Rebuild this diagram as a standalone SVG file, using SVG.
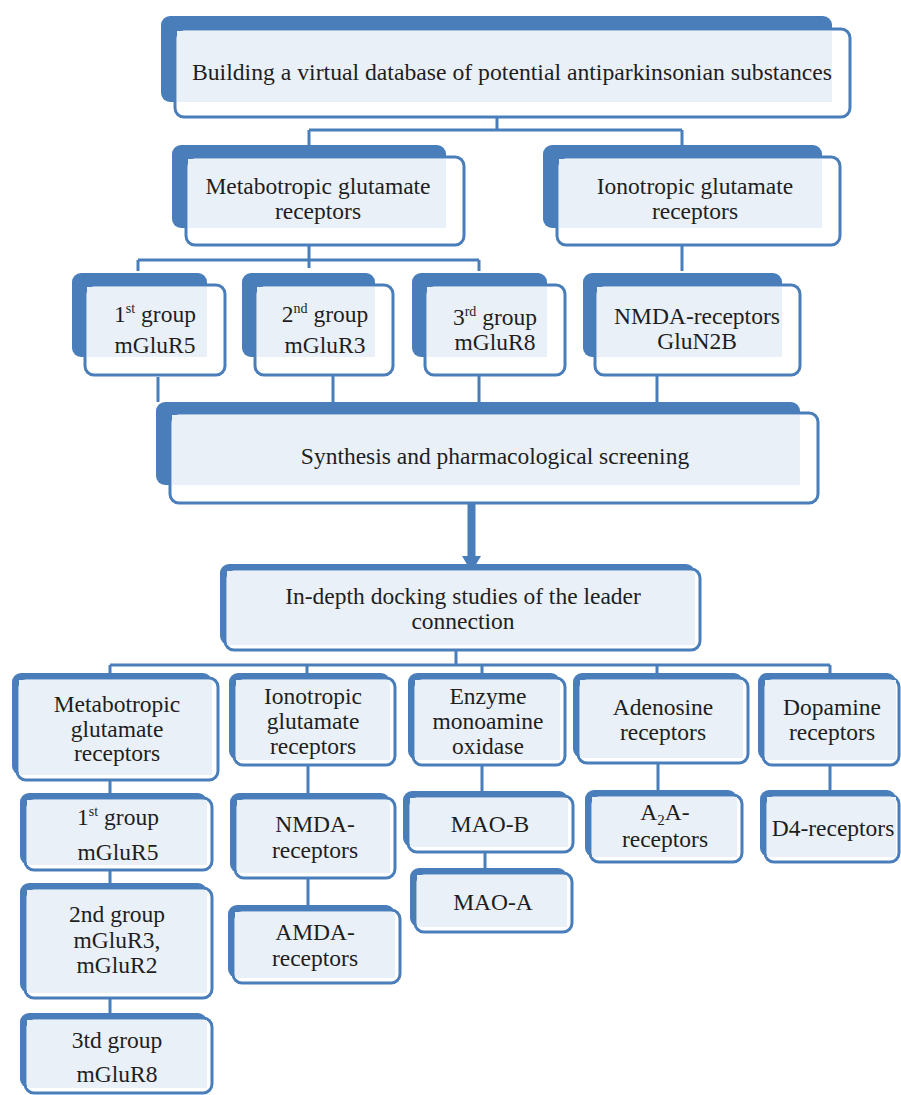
<svg xmlns="http://www.w3.org/2000/svg" width="901" height="1095" viewBox="0 0 901 1095">
<style>
.bg{fill:#ffffff}
.back{fill:#4a7ebb}
.front{fill:#ffffff;stroke:#4a7ebb;stroke-width:3}
.inner{fill:#e9f0f8}
.t{font-family:"Liberation Serif","Times New Roman",serif;font-size:23.5px;fill:#1e1e1e;text-anchor:middle}
.conn{stroke:#4a7ebb;stroke-width:3;fill:none}
.arrow{fill:#4a7ebb}
</style>
<rect class="bg" x="0" y="0" width="901" height="1095"/>

<g id="connectors">
  <path class="conn" d="M497,117 V130 M309,130 H682 M309,130 V145 M682,130 V145"/>
  <path class="conn" d="M309,245 V268 M138,260 H479 M138,260 V271 M479,260 V271 M682,245 V271"/>
  <path class="conn" d="M158,377 V402 M333,375 V402 M479,375 V402 M657,375 V402"/>
  <rect class="arrow" x="467.5" y="503" width="8" height="54"/>
  <polygon class="arrow" points="462,556 481,556 471.5,572"/>
  <path class="conn" d="M456,650 V665 M110,665 H830 M110,665 V673 M307,665 V673 M482,665 V673 M657,665 V673 M830,665 V673"/>
  <path class="conn" d="M110,780 V793 M308,765 V793 M482,765 V791 M658,763 V790 M830,765 V790"/>
  <path class="conn" d="M110,870 V883 M110,998 V1013 M308,878 V905 M485,852 V868"/>
</g>

<g id="node-database">
  <rect class="back" x="161" y="16" width="671" height="86" rx="9"/>
  <rect class="front" x="175" y="29" width="675" height="88" rx="9"/>
  <rect class="inner" x="177" y="31" width="655" height="71"/>
  <text class="t" x="512" y="80" style="font-size:23.7px">Building a virtual database of potential antiparkinsonian substances</text>
</g>

<g id="node-metabotropic-top">
  <rect class="back" x="172" y="145" width="274" height="83" rx="9"/>
  <rect class="front" x="186" y="157" width="278" height="88" rx="9"/>
  <rect class="inner" x="188" y="159" width="258" height="69"/>
  <text class="t" x="318" y="194">Metabotropic glutamate</text>
  <text class="t" x="318" y="219">receptors</text>
</g>

<g id="node-ionotropic-top">
  <rect class="back" x="543" y="145" width="279" height="83" rx="9"/>
  <rect class="front" x="557" y="157" width="283" height="88" rx="9"/>
  <rect class="inner" x="559" y="159" width="263" height="69"/>
  <text class="t" x="695" y="194">Ionotropic glutamate</text>
  <text class="t" x="695" y="219">receptors</text>
</g>

<g id="node-group1-top">
  <rect class="back" x="72" y="273" width="135" height="84" rx="9"/>
  <rect class="front" x="85" y="285" width="140" height="90" rx="9"/>
  <rect class="inner" x="87" y="287" width="120" height="70"/>
  <text class="t" x="155" y="322">1<tspan dy="-9" font-size="14">st</tspan><tspan dy="9"> group</tspan></text>
  <text class="t" x="155" y="353">mGluR5</text>
</g>

<g id="node-group2-top">
  <rect class="back" x="242" y="273" width="133" height="84" rx="9"/>
  <rect class="front" x="255" y="285" width="138" height="90" rx="9"/>
  <rect class="inner" x="257" y="287" width="118" height="70"/>
  <text class="t" x="325" y="322">2<tspan dy="-9" font-size="14">nd</tspan><tspan dy="9"> group</tspan></text>
  <text class="t" x="325" y="353">mGluR3</text>
</g>

<g id="node-group3-top">
  <rect class="back" x="412" y="273" width="135" height="84" rx="9"/>
  <rect class="front" x="425" y="285" width="140" height="90" rx="9"/>
  <rect class="inner" x="427" y="287" width="120" height="70"/>
  <text class="t" x="495" y="325">3<tspan dy="-9" font-size="14">rd</tspan><tspan dy="9"> group</tspan></text>
  <text class="t" x="495" y="350">mGluR8</text>
</g>

<g id="node-nmda-top">
  <rect class="back" x="583" y="273" width="199" height="84" rx="9"/>
  <rect class="front" x="595" y="285" width="205" height="90" rx="9"/>
  <rect class="inner" x="597" y="287" width="185" height="70"/>
  <text class="t" x="697" y="324">NMDA-receptors</text>
  <text class="t" x="697" y="349">GluN2B</text>
</g>

<g id="node-synthesis">
  <rect class="back" x="156" y="402" width="644" height="83" rx="9"/>
  <rect class="front" x="170" y="413" width="648" height="90" rx="9"/>
  <rect class="inner" x="172" y="415" width="628" height="70"/>
  <text class="t" x="495" y="464">Synthesis and pharmacological screening</text>
</g>

<g id="node-docking">
  <rect class="back" x="220" y="564" width="475" height="81" rx="9"/>
  <rect class="front" x="225" y="569" width="475" height="81" rx="9"/>
  <rect class="inner" x="227" y="571" width="468" height="74"/>
  <text class="t" x="463" y="604">In-depth docking studies of the leader</text>
  <text class="t" x="463" y="629">connection</text>
</g>

<g id="node-metabotropic">
  <rect class="back" x="12" y="673" width="200" height="102" rx="9"/>
  <rect class="front" x="17" y="678" width="201" height="102" rx="9"/>
  <rect class="inner" x="19" y="680" width="193" height="95"/>
  <text class="t" x="117" y="712">Metabotropic</text>
  <text class="t" x="117" y="737">glutamate</text>
  <text class="t" x="117" y="761">receptors</text>
</g>

<g id="node-ionotropic">
  <rect class="back" x="229" y="673" width="161" height="87" rx="9"/>
  <rect class="front" x="234" y="678" width="161" height="87" rx="9"/>
  <rect class="inner" x="236" y="680" width="154" height="80"/>
  <text class="t" x="313" y="704">Ionotropic</text>
  <text class="t" x="313" y="729">glutamate</text>
  <text class="t" x="313" y="754">receptors</text>
</g>

<g id="node-mao">
  <rect class="back" x="408" y="673" width="152" height="87" rx="9"/>
  <rect class="front" x="413" y="678" width="152" height="87" rx="9"/>
  <rect class="inner" x="415" y="680" width="145" height="80"/>
  <text class="t" x="488" y="704">Enzyme</text>
  <text class="t" x="488" y="729">monoamine</text>
  <text class="t" x="488" y="754">oxidase</text>
</g>

<g id="node-adenosine">
  <rect class="back" x="573" y="673" width="170" height="85" rx="9"/>
  <rect class="front" x="578" y="678" width="170" height="85" rx="9"/>
  <rect class="inner" x="580" y="680" width="163" height="78"/>
  <text class="t" x="663" y="715">Adenosine</text>
  <text class="t" x="663" y="740">receptors</text>
</g>

<g id="node-dopamine">
  <rect class="back" x="758" y="673" width="138" height="87" rx="9"/>
  <rect class="front" x="763" y="678" width="136" height="87" rx="9"/>
  <rect class="inner" x="765" y="680" width="131" height="80"/>
  <text class="t" x="832" y="715">Dopamine</text>
  <text class="t" x="832" y="740">receptors</text>
</g>

<g id="node-group1">
  <rect class="back" x="20" y="793" width="187" height="72" rx="9"/>
  <rect class="front" x="25" y="798" width="187" height="72" rx="9"/>
  <rect class="inner" x="27" y="800" width="180" height="65"/>
  <text class="t" x="118" y="825">1<tspan dy="-9" font-size="14">st</tspan><tspan dy="9"> group</tspan></text>
  <text class="t" x="118" y="860">mGluR5</text>
</g>

<g id="node-group2">
  <rect class="back" x="20" y="883" width="187" height="110" rx="9"/>
  <rect class="front" x="25" y="888" width="187" height="110" rx="9"/>
  <rect class="inner" x="27" y="890" width="180" height="103"/>
  <text class="t" x="117" y="922">2nd group</text>
  <text class="t" x="117" y="948">mGluR3,</text>
  <text class="t" x="117" y="973">mGluR2</text>
</g>

<g id="node-group3">
  <rect class="back" x="20" y="1013" width="187" height="75" rx="9"/>
  <rect class="front" x="25" y="1018" width="187" height="75" rx="9"/>
  <rect class="inner" x="27" y="1020" width="180" height="68"/>
  <text class="t" x="117" y="1048">3td group</text>
  <text class="t" x="117" y="1082">mGluR8</text>
</g>

<g id="node-nmda">
  <rect class="back" x="230" y="793" width="160" height="80" rx="9"/>
  <rect class="front" x="235" y="798" width="160" height="80" rx="9"/>
  <rect class="inner" x="237" y="800" width="153" height="73"/>
  <text class="t" x="315" y="832">NMDA-</text>
  <text class="t" x="315" y="858">receptors</text>
</g>

<g id="node-amda">
  <rect class="back" x="228" y="905" width="167" height="73" rx="9"/>
  <rect class="front" x="233" y="910" width="167" height="73" rx="9"/>
  <rect class="inner" x="235" y="912" width="160" height="66"/>
  <text class="t" x="315" y="940">AMDA-</text>
  <text class="t" x="315" y="966">receptors</text>
</g>

<g id="node-mao-b">
  <rect class="back" x="403" y="791" width="165" height="56" rx="9"/>
  <rect class="front" x="408" y="796" width="165" height="56" rx="9"/>
  <rect class="inner" x="410" y="798" width="158" height="49"/>
  <text class="t" x="490" y="832">MAO-B</text>
</g>

<g id="node-mao-a">
  <rect class="back" x="410" y="868" width="157" height="59" rx="9"/>
  <rect class="front" x="415" y="873" width="157" height="59" rx="9"/>
  <rect class="inner" x="417" y="875" width="150" height="52"/>
  <text class="t" x="493" y="910">MAO-A</text>
</g>

<g id="node-a2a">
  <rect class="back" x="585" y="790" width="152" height="67" rx="9"/>
  <rect class="front" x="590" y="795" width="152" height="67" rx="9"/>
  <rect class="inner" x="592" y="797" width="145" height="60"/>
  <text class="t" x="665" y="820">A<tspan dy="5" font-size="15">2</tspan><tspan dy="-5">A-</tspan></text>
  <text class="t" x="665" y="847">receptors</text>
</g>

<g id="node-d4">
  <rect class="back" x="760" y="790" width="136" height="67" rx="9"/>
  <rect class="front" x="765" y="795" width="134" height="67" rx="9"/>
  <rect class="inner" x="767" y="797" width="129" height="60"/>
  <text class="t" x="833" y="836">D4-receptors</text>
</g>
</svg>
